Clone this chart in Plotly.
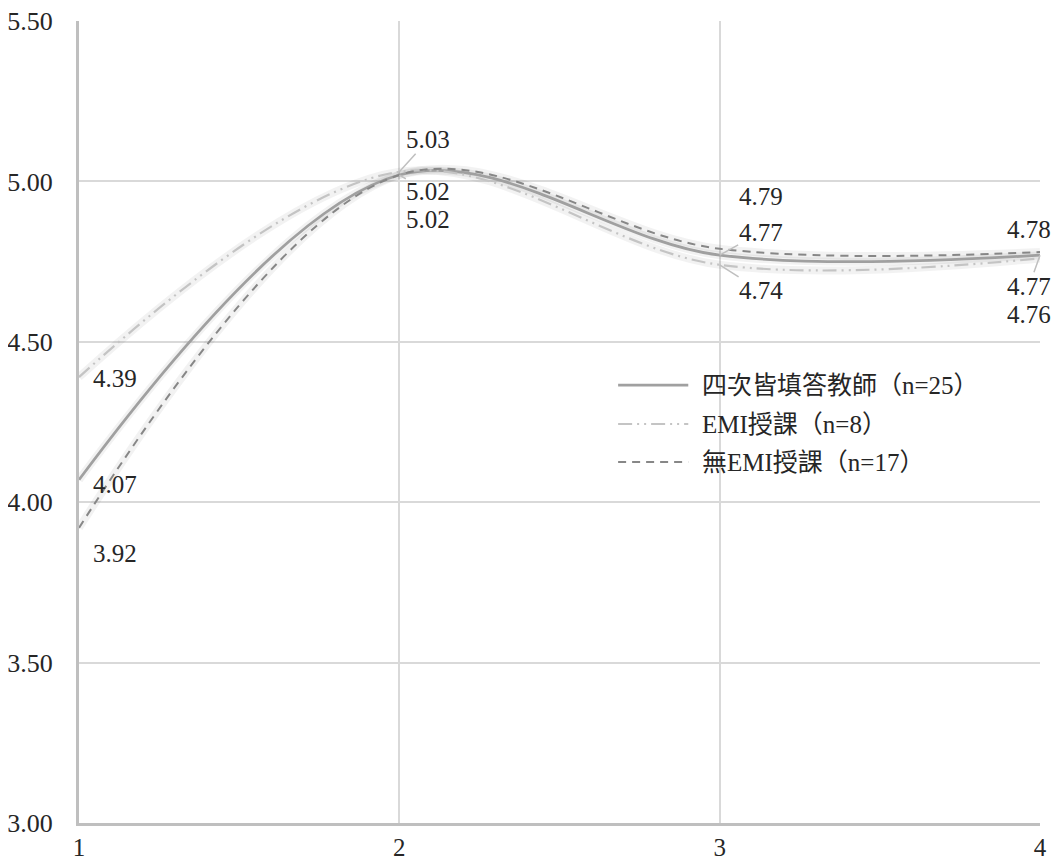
import plotly.graph_objects as go

# ---- data ----
x_vals = [1, 2, 3, 4]
series_names = ["四次皆填答教師（n=25）", "EMI授課（n=8）", "無EMI授課（n=17）"]
all_teachers = [4.07, 5.02, 4.77, 4.77]
emi = [4.39, 5.03, 4.74, 4.76]
no_emi = [3.92, 5.02, 4.79, 4.78]
y_ticks = [3.0, 3.5, 4.0, 4.5, 5.0, 5.5]

FONT = "Liberation Serif, Noto Sans CJK TC, serif"
TXT = "#262626"

styles = [
    dict(color="#a0a0a0", width=2.8, dash="solid"),
    dict(color="#c4c4c4", width=2.2, dash="14px,5px,2px,5px,2px,5px"),
    dict(color="#878787", width=2.0, dash="8px,6px"),
]
data = [all_teachers, emi, no_emi]

fig = go.Figure()
# soft shadow under lines
for ys in data:
    fig.add_trace(go.Scatter(x=x_vals, y=ys, mode="lines", line_shape="spline",
                             line=dict(color="rgba(0,0,0,0.05)", width=8),
                             hoverinfo="skip", showlegend=False))
for name, ys, st in zip(series_names, data, styles):
    fig.add_trace(go.Scatter(x=x_vals, y=ys, mode="lines", name=name,
                             line_shape="spline",
                             line=dict(color=st["color"], width=st["width"], dash=st["dash"]),
                             showlegend=False))

# ---- data labels (label offsets in px, leader flag) ----
label_layout = {
    # (series index, point index): (ax, ay, leader)
    (1, 0): (36, 1, False),
    (0, 0): (36, 5, False),
    (2, 0): (36, 26, False),
    (1, 1): (29, -32, True),
    (2, 1): (29, 17, True),
    (0, 1): (29, 45, False),
    (2, 2): (41, -52, False),
    (0, 2): (41, -23, True),
    (1, 2): (41, 26, True),
    (2, 3): (-11, -22, False),
    (0, 3): (-11, 31, True),
    (1, 3): (-11, 56, False),
}
for (si, pi), (ax, ay, leader) in label_layout.items():
    val = data[si][pi]
    fig.add_annotation(x=x_vals[pi], y=val, xref="x", yref="y",
                       text=f"{val:.2f}", showarrow=True, ax=ax, ay=ay,
                       arrowhead=0, arrowwidth=1.5,
                       arrowcolor="#bfbfbf" if leader else "rgba(0,0,0,0)",
                       standoff=0, borderpad=0,
                       font=dict(family=FONT, size=25, color=TXT))

# ---- legend (drawn manually to match long line samples) ----
leg_y = [0.546, 0.4975, 0.450]
for name, st, ly in zip(series_names, styles, leg_y):
    fig.add_shape(type="line", xref="paper", yref="paper", x0=0.561, x1=0.634,
                  y0=ly, y1=ly,
                  line=dict(color=st["color"], width=st["width"], dash=st["dash"]))
    fig.add_annotation(xref="paper", yref="paper", x=0.646, y=ly, text=name,
                       showarrow=False, xanchor="left", yanchor="middle",
                       font=dict(family=FONT, size=25, color=TXT))

# page body has an 8px margin, so the figure is sized/offset to compensate
fig.update_layout(
    width=1052, height=854, autosize=False,
    margin=dict(l=71, r=20, t=13, b=39),
    paper_bgcolor="white", plot_bgcolor="white",
    font=dict(family=FONT, size=25, color=TXT),
    xaxis=dict(range=[1, 4], tickvals=x_vals, ticktext=[str(v) for v in x_vals],
               showgrid=True, gridcolor="#d9d9d9", gridwidth=1.5,
               showline=True, linecolor="#bfbfbf", linewidth=3,
               ticks="", zeroline=False, automargin=False,
               ticklabeloverflow="allow",
               tickfont=dict(family=FONT, size=25, color=TXT)),
    yaxis=dict(range=[3, 5.5], tickvals=y_ticks, ticktext=[f"{v:.2f}" for v in y_ticks],
               showgrid=True, gridcolor="#d9d9d9", gridwidth=1.5,
               showline=True, linecolor="#bfbfbf", linewidth=3,
               ticks="", zeroline=False, ticklabelstandoff=18, automargin=False,
               ticklabeloverflow="allow",
               tickfont=dict(family=FONT, size=26, color=TXT)),
)

fig.write_html("out.html")
